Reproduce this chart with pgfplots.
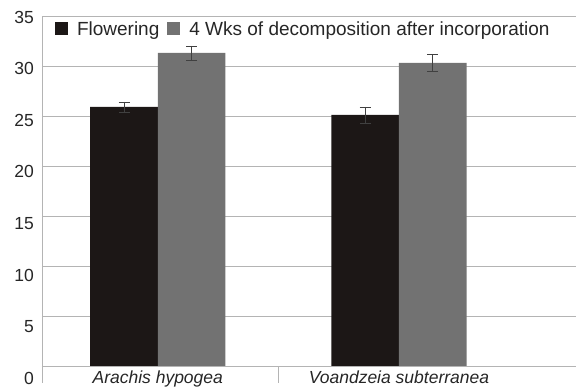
\documentclass[border=0pt]{standalone}
\usepackage{pgfplots}
\pgfplotsset{compat=1.18}
\usepackage{fontspec}
\setmainfont{Liberation Sans}
\definecolor{barblack}{HTML}{1C1716}
\definecolor{bargray}{HTML}{727272}
\definecolor{gridc}{HTML}{B4B4B4}
\begin{document}
\begin{tikzpicture}
\begin{axis}[
  scale only axis,
  width=534pt, height=350pt,
  ybar=0pt, bar width=0.28,
  xmin=-0.48, xmax=1.734,
  ymin=0, ymax=35,
  ytick={0,5,...,35},
  xtick={0,1},
  xticklabels={Arachis hypogea, Voandzeia subterranea},
  axis x line*=bottom, axis y line*=left,
  axis line style={gridc, line width=0.8pt},
  ymajorgrids, grid style={gridc, line width=0.8pt},
  major tick length=0pt,
  /pgf/number format/assume math mode=true,
  tick label style={font=\fontsize{17.5}{20}\selectfont, text=black!85},
  yticklabel style={anchor=east, inner sep=0pt, xshift=-8pt, yshift={-(1+(7-\ticknum)*1.6)*1pt}},
  xticklabel style={anchor=base, inner sep=0pt, yshift=-18pt, font=\fontsize{17.5}{20}\selectfont\itshape},
  extra x ticks={-0.48,0.5},
  extra x tick labels={},
  extra x tick style={tick align=outside, major tick length=17pt, tick style={gridc, line width=0.8pt}},
  legend style={at={(0.024,0.963)}, anchor=west, draw=none, fill=none,
    legend columns=-1, font=\fontsize{19}{22}\selectfont, text=black!85,
    inner sep=0pt, nodes={inner sep=0pt},
    /tikz/every even column/.append style={column sep=8pt}},
  legend image code/.code={\fill[#1] (0pt,-6.5pt) rectangle (13pt,6.5pt); \path (0pt,0pt) (22pt,0pt);},
  error bars/error bar style={black!75, line width=0.6pt},
  error bars/error mark options={rotate=90, mark size=5.5pt, black!75, line width=0.6pt},
]
\addplot[fill=barblack, draw=none, error bars/.cd, y dir=both, y explicit]
  coordinates {(0,25.9) +- (0,0.5) (1,25.1) +- (0,0.8)};
\addplot[fill=bargray, draw=none, error bars/.cd, y dir=both, y explicit]
  coordinates {(0,31.3) +- (0,0.7) (1,30.3) +- (0,0.85)};
\legend{Flowering, 4 Wks of decomposition after incorporation}
\end{axis}
\pgfresetboundingbox
\path[use as bounding box] ([xshift=-42pt,yshift=-21pt]current axis.south west) rectangle ([yshift=16pt]current axis.north east);
\end{tikzpicture}
\end{document}
